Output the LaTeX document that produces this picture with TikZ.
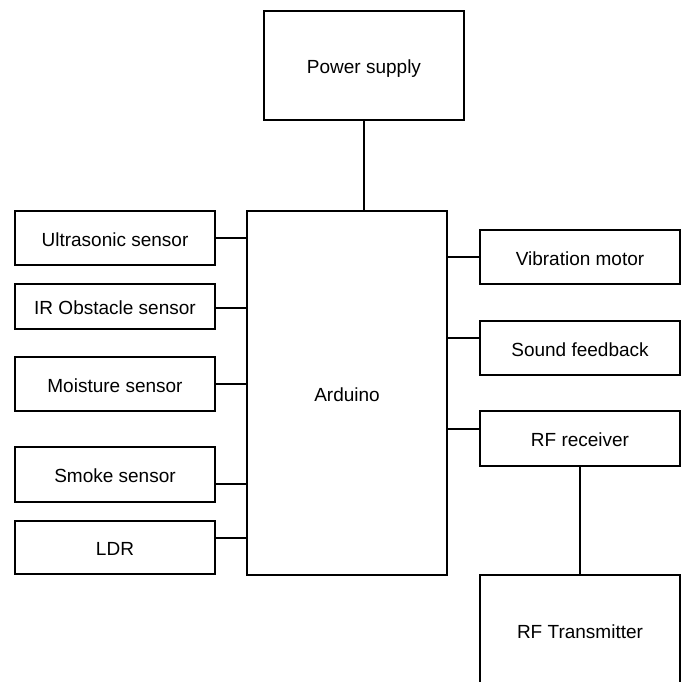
\documentclass[tikz,border=0pt]{standalone}
\usepackage{fontspec}
\setmainfont{Liberation Sans}
\usetikzlibrary{positioning}

\begin{document}
\begin{tikzpicture}[
  x=1pt, y=-1pt,
  font=\fontsize{19}{22}\selectfont,
  box/.style={draw, line width=1.5pt, fill=white, align=center,
              minimum width=200pt, inner sep=2pt,
              text height=16.5pt, text depth=0pt},
  wire/.style={line width=1.5pt}
]
\useasboundingbox (0,0) rectangle (683,681);
\clip (0,0) rectangle (683,681);

% centre block and supply
\node[box, minimum height=109pt] (pwr) at (364, 65.5) {Power supply};
\node[box, minimum height=364pt] (ardu) at (347, 393) {Arduino};
\draw[wire] (pwr.south) -- (pwr.south |- ardu.north);

% sensors on the left
\node[box, minimum height=54pt] (ultra) at (115, 238)   {Ultrasonic sensor};
\node[box, minimum height=45pt] (ir)    at (115, 306.5) {IR Obstacle sensor};
\node[box, minimum height=54pt] (moist) at (115, 384)   {Moisture sensor};
\node[box, minimum height=55pt] (smoke) at (115, 474.5) {Smoke sensor};
\node[box, minimum height=53pt] (ldr)   at (115, 547.5) {LDR};

\draw[wire] (ultra.east) -- (ultra.east -| ardu.west);
\draw[wire] ([yshift=-1.5pt]ir.east) coordinate (c1) -- (c1 -| ardu.west);
\draw[wire] (moist.east) -- (moist.east -| ardu.west);
\draw[wire] ([yshift=-9.5pt]smoke.east) coordinate (c2) -- (c2 -| ardu.west);
\draw[wire] ([yshift=9.5pt]ldr.east) coordinate (c3) -- (c3 -| ardu.west);

% outputs on the right
\node[box, minimum height=54pt] (vib)   at (580, 257)   {Vibration motor};
\node[box, minimum height=54pt] (sound) at (580, 348)   {Sound feedback};
\node[box, minimum height=55pt] (rfrx)  at (580, 438.5) {RF receiver};
\node[box, minimum height=110pt] (rftx) at (580, 630)   {RF Transmitter};

\draw[wire] (vib.west) -- (vib.west -| ardu.east);
\draw[wire] ([yshift=10pt]sound.west) coordinate (c4) -- (c4 -| ardu.east);
\draw[wire] ([yshift=9.5pt]rfrx.west) coordinate (c5) -- (c5 -| ardu.east);
\draw[wire] (rfrx.south) -- (rftx.north);

\end{tikzpicture}
\end{document}
